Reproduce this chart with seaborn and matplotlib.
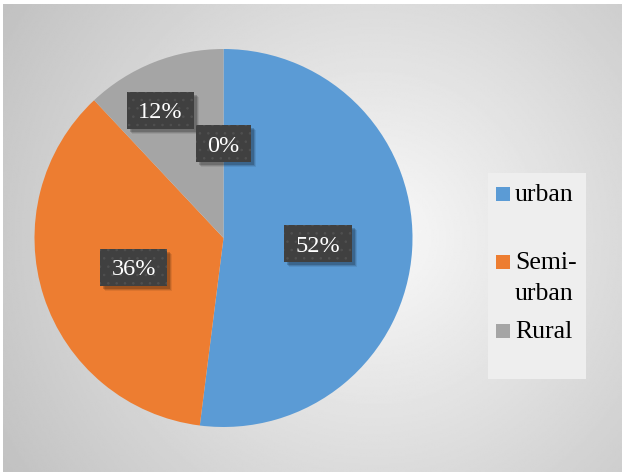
import os
import numpy as np
import matplotlib
matplotlib.use("Agg")
import matplotlib.pyplot as plt
import matplotlib.font_manager as fm
import seaborn as sns
from matplotlib.patches import Rectangle
from matplotlib.transforms import IdentityTransform

# ---- data ----
categories = ["urban", "Semi-\nurban", "Rural", ""]
values = [52, 36, 12, 0]
pct_labels = ["52%", "36%", "12%", "0%"]

sns.set_theme(style="white")
SERIF = ['Liberation Serif', 'DejaVu Serif']
plt.rcParams['font.family'] = SERIF
plt.rcParams['hatch.linewidth'] = 0.6

serif_path = fm.findfont(fm.FontProperties(family=SERIF))
def fprop(size):
    return fm.FontProperties(fname=serif_path, size=size)

colors = sns.color_palette(["#5B9BD5", "#ED7D31", "#A5A5A5", "#FFC000"])

W, H = 622, 472
fig = plt.figure(figsize=(W / 100, H / 100), dpi=100)
fig.patch.set_facecolor('white')
ident = IdentityTransform()

# ---- background radial gradient ----
bg = fig.add_axes([3 / W, 0, 1 - 3 / W, 1 - 4 / H])
yy, xx = np.mgrid[0:1:300j, 0:1:400j]
d = np.hypot((xx - 0.6) * W, (yy - 0.5) * H)
d = d / d.max()
img = 0.978 - 0.22 * d
bg.imshow(img, cmap='gray', vmin=0, vmax=1, extent=[0, 1, 0, 1],
          aspect='auto', origin='lower', interpolation='bilinear')
bg.axis('off')

# ---- pie ----
cxp, cyp, R = 223.5, 238, 189
ax = fig.add_axes([(cxp - R) / W, (H - cyp - R) / H, 2 * R / W, 2 * R / H])
ax.pie(values, colors=colors, startangle=90, counterclock=False, radius=1,
       wedgeprops=dict(linewidth=0))
ax.set_xlim(-1, 1)
ax.set_ylim(-1, 1)
ax.set_aspect('equal')
ax.axis('off')

# ---- data labels ----
fracs = np.array(values, dtype=float) / sum(values)
mids = 90 - 360 * (np.cumsum(fracs) - fracs / 2)
label_r = [0.5, 0.5, 0.753, 0.5]
label_nudge = [0, 0, 4.7, 0]

fig.canvas.draw()
renderer = fig.canvas.get_renderer()
fs_lab = 17.5
digit_h = 0.66 * fs_lab * 100 / 72
for lab, m, r, nd in zip(pct_labels, mids, label_r, label_nudge):
    a = np.deg2rad(m + nd)
    px, py = ax.transData.transform((r * np.cos(a), r * np.sin(a)))
    t = fig.text(px, py - digit_h / 2, lab, transform=ident, ha='center',
                 va='baseline', color='white', zorder=10,
                 fontproperties=fprop(fs_lab))
    tw = t.get_window_extent(renderer).width
    bw, bh = tw + 23, 37
    x0, y0 = px - bw / 2, py - bh / 2
    for off, al in [(5, 0.08), (4, 0.12), (3, 0.18)]:
        fig.add_artist(Rectangle((x0 + off, y0 - off), bw, bh, transform=ident,
                                 facecolor='black', alpha=al, linewidth=0, zorder=7))
    fig.add_artist(Rectangle((x0, y0), bw, bh, transform=ident, facecolor='#404040',
                             edgecolor='#505050', linewidth=0, hatch='..', zorder=8))

# ---- legend ----
fig.add_artist(Rectangle((488, H - 379), 98, 206, transform=ident,
                         facecolor='#eeeeee', linewidth=0, zorder=5))
leg_tops = [187, 255, 324]
fs_leg = 18.5
line_pitch = 30.7
for cat, col, top in zip(categories[:3], colors[:3], leg_tops):
    fig.add_artist(Rectangle((496, H - top - 14), 14, 14, transform=ident,
                             facecolor=col, linewidth=0, zorder=6))
    for i, line in enumerate(cat.split("\n")):
        fig.text(515, H - (top + 14) - i * line_pitch, line, transform=ident,
                 ha='left', va='baseline', color='black', zorder=6,
                 fontproperties=fprop(fs_leg))

fig.savefig("out.png", dpi=100)
